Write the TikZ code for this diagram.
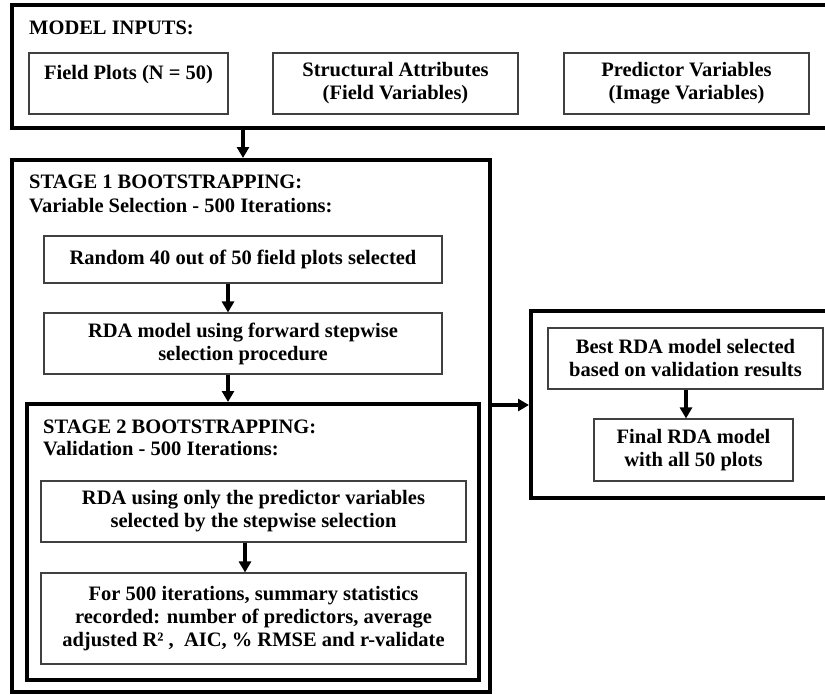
\documentclass[tikz,border=0pt]{standalone}
\usepackage{fontspec}
\setmainfont{Liberation Serif}
\usetikzlibrary{arrows.meta}
\begin{document}
\begin{tikzpicture}[x=1pt,y=-1pt,
  thinbox/.style={draw=black!75, line width=1.1pt, inner sep=0pt, align=center,
    font=\fontsize{20.5}{23}\selectfont\bfseries},
  bigbox/.style={draw=black, line width=4.5pt},
  title/.style={anchor=base west, inner sep=0pt, font=\fontsize{20.5}{23}\selectfont\bfseries},
  arr/.style={line width=3.6pt, -{Triangle[length=11pt,width=12pt]}}]
\clip (0,0) rectangle (825,694);
\fill[white] (0,0) rectangle (825,694);
% top box
\draw[bigbox] (12,5) rectangle (840,128);
\coordinate (topb) at (243,130);
\node[title] (t0) at (29,34) {MODEL INPUTS:};
\node[thinbox, minimum width=199pt, minimum height=61pt] (fp) at (128.5,83.5) {Field Plots (N = 50)\\\mbox{}};
\node[thinbox, minimum width=245pt, minimum height=61pt] (sa) at (395.5,83.5) {Structural Attributes\\(Field Variables)};
\node[thinbox, minimum width=245pt, minimum height=61pt] (pv) at (686.5,83.5) {Predictor Variables\\(Image Variables)};
% stage 1
\draw[bigbox] (12,160) rectangle (490,692);
\coordinate (s1top) at (243,158);
\node[title] (t1a) at (29,188) {STAGE 1 BOOTSTRAPPING:};
\node[title] (t1b) at (29,212) {Variable Selection - 500 Iterations:};
\node[thinbox, minimum width=398pt, minimum height=47pt] (rand) at (243,259.5) {Random 40 out of 50 field plots selected};
\node[thinbox, minimum width=398pt, minimum height=61pt] (rdam) at (243,343.5) {RDA model using forward stepwise\\selection procedure};
% stage 2
\draw[bigbox] (27,404) rectangle (479,680);
\coordinate (s2top) at (228,402);
\node[title] (t2a) at (43,433) {STAGE 2 BOOTSTRAPPING:};
\node[title] (t2b) at (43,455) {Validation - 500 Iterations:};
\node[thinbox, minimum width=425pt, minimum height=61pt] (rdau) at (253.5,511.5) {RDA using only the predictor variables\\selected by the stepwise selection};
\node[thinbox, minimum width=425pt, minimum height=91pt] (f500) at (253.5,618.5) {For 500 iterations, summary statistics\\recorded: number of predictors, average\\adjusted R² ,\ \ AIC, \% RMSE and r-validate};
% right box
\draw[bigbox] (531,311) rectangle (840,498);
\coordinate (s1r) at (492,405);
\coordinate (rbl) at (529,405);
\node[thinbox, minimum width=275pt, minimum height=61pt] (best) at (685.5,358.5) {Best RDA model selected\\based on validation results};
\node[thinbox, minimum width=199pt, minimum height=62pt] (final) at (693.5,450) {Final RDA model\\with all 50 plots};
% arrows
\draw[arr] (topb) -- (s1top);
\draw[arr] (rand.south -| 228,0) -- (rdam.north -| 228,0);
\draw[arr] (rdam.south -| 228,0) -- (s2top);
\draw[arr] (rdau.south -| 245,0) -- (f500.north -| 245,0);
\draw[arr] (best.south -| 686,0) -- (final.north -| 686,0);
\draw[arr] (s1r) -- (rbl);
\end{tikzpicture}
\end{document}
